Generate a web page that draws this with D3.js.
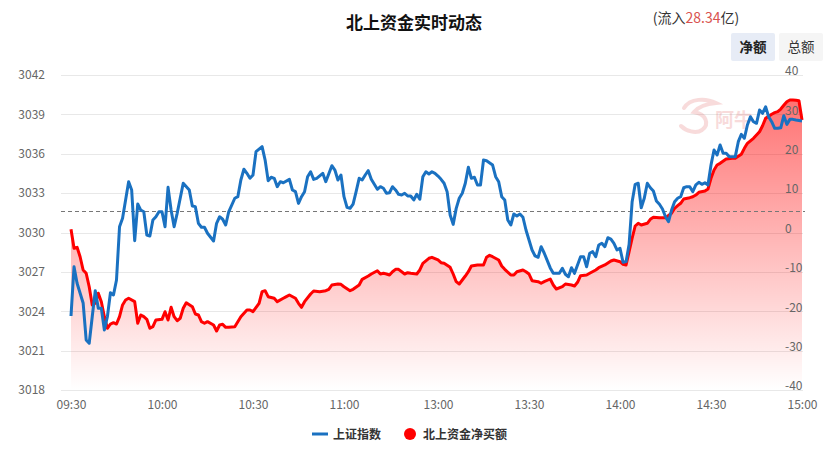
<!DOCTYPE html>
<html><head><meta charset="utf-8">
<script src="https://cdn.jsdelivr.net/npm/d3@7/dist/d3.min.js"></script>
<style>
body{margin:0;background:#fff;}
svg{display:block;font-family:"Noto Sans CJK SC","Noto Sans",sans-serif;}
</style>
</head><body>
<svg id="chart" width="831" height="456"></svg>
<script>
// ---------- data ----------
const title = "北上资金实时动态";
const flowTotal = "28.34";
const timeLabels = ["09:30","10:00","10:30","11:00","13:00","13:30","14:00","14:30","15:00"];
const timeLabelMinute = [0,30,60,90,121,151,181,211,241];
const leftTicks = [3018,3021,3024,3027,3030,3033,3036,3039,3042];
const rightTicks = [-40,-30,-20,-10,0,10,20,30,40];
const prevClose = 3031.64;
// 上证指数: [trading-minute index, value]
const shIndex = [[0,3023.64],[1,3027.39],[2,3026.13],[4,3024.63],[5,3021.81],[6,3021.56],[7,3023.58],[8,3025.57],[9,3024.22],[10,3024.22],[11,3022.57],[12,3023.58],[13,3025.41],[14,3025.24],[15,3026.38],[16,3030.44],[17,3031.08],[18,3032.48],[19,3033.87],[20,3033.24],[21,3029.38],[22,3032.17],[23,3031.71],[24,3031.58],[25,3029.81],[26,3029.73],[27,3030.95],[28,3031.20],[29,3031.58],[30,3031.58],[31,3030.44],[32,3033.44],[33,3031.71],[34,3030.44],[35,3031.46],[37,3033.75],[39,3033.24],[40,3032.02],[41,3031.97],[42,3030.70],[43,3030.40],[44,3030.40],[45,3029.94],[47,3029.35],[48,3030.70],[49,3031.20],[50,3031.01],[51,3030.57],[52,3031.58],[54,3032.61],[55,3032.73],[56,3034.00],[57,3034.82],[58,3034.51],[59,3034.13],[60,3034.38],[61,3036.16],[63,3036.54],[64,3035.52],[65,3033.95],[66,3034.21],[67,3034.13],[68,3033.49],[69,3033.87],[70,3033.79],[72,3034.05],[73,3033.24],[74,3033.11],[75,3032.22],[76,3032.73],[77,3033.11],[78,3034.25],[79,3034.63],[80,3034.05],[81,3034.13],[83,3034.51],[84,3033.87],[86,3035.09],[87,3034.76],[88,3034.00],[89,3034.38],[90,3032.73],[91,3031.92],[92,3031.84],[93,3032.17],[94,3033.11],[95,3034.13],[96,3034.00],[97,3034.38],[98,3034.71],[99,3034.05],[101,3033.29],[102,3033.49],[103,3033.37],[104,3032.99],[105,3033.03],[106,3033.49],[107,3033.24],[108,3032.91],[109,3032.86],[110,3032.99],[111,3032.78],[112,3032.78],[113,3032.48],[114,3032.91],[115,3032.53],[116,3034.25],[117,3034.63],[118,3034.46],[119,3034.63],[120,3034.51],[121,3034.30],[122,3034.05],[123,3033.75],[124,3033.11],[125,3031.33],[126,3030.62],[127,3031.84],[128,3032.61],[129,3032.99],[130,3033.75],[131,3034.97],[132,3034.13],[133,3034.21],[134,3033.62],[135,3033.62],[136,3035.52],[137,3035.47],[139,3035.14],[140,3034.25],[141,3033.87],[142,3032.73],[143,3032.48],[144,3030.95],[145,3030.57],[146,3031.41],[147,3031.26],[148,3031.41],[149,3031.16],[150,3030.19],[151,3029.43],[152,3028.67],[153,3028.21],[154,3028.11],[155,3028.92],[156,3028.44],[158,3027.30],[159,3026.89],[161,3026.89],[162,3027.27],[163,3026.82],[164,3026.63],[165,3027.32],[166,3026.89],[168,3028.16],[169,3028.16],[170,3027.39],[171,3028.42],[172,3028.54],[173,3028.16],[174,3029.05],[175,3029.18],[176,3028.92],[177,3029.60],[178,3029.50],[179,3029.18],[180,3028.67],[181,3028.80],[182,3027.73],[183,3027.78],[184,3029.10],[185,3032.35],[186,3033.67],[187,3033.75],[188,3031.89],[189,3032.61],[190,3033.75],[191,3033.41],[192,3033.16],[193,3032.40],[194,3032.15],[195,3031.79],[196,3031.20],[197,3030.82],[198,3031.71],[199,3032.35],[200,3032.61],[201,3032.73],[202,3033.41],[203,3033.49],[204,3033.49],[205,3033.11],[206,3033.62],[207,3033.82],[208,3033.67],[209,3033.79],[210,3033.62],[211,3035.14],[212,3036.29],[213,3035.90],[214,3036.67],[215,3036.03],[216,3036.03],[217,3035.78],[218,3035.78],[219,3035.78],[220,3036.92],[221,3037.48],[222,3037.18],[223,3038.19],[224,3038.82],[225,3038.44],[226,3038.32],[227,3039.33],[228,3039.08],[229,3039.58],[230,3038.82],[231,3038.44],[232,3037.94],[233,3037.94],[234,3037.98],[235,3038.90],[236,3038.24],[237,3038.62],[238,3038.62],[239,3038.57],[241,3038.50]];
// 北上资金净买额 (亿): [trading-minute index, value]
const northFlow = [[0,0.81],[1,-4.01],[2,-3.76],[3,-6.15],[4,-9.52],[5,-10.36],[6,-13.77],[7,-18.41],[8,-17.98],[9,-15.44],[10,-17.57],[11,-21.38],[12,-24.33],[13,-23.24],[14,-22.91],[15,-23.24],[16,-21.38],[17,-18.41],[18,-17.14],[19,-16.71],[21,-17.57],[22,-23.06],[23,-20.95],[24,-21.38],[25,-22.05],[26,-24.33],[27,-23.92],[28,-22.22],[30,-22.05],[31,-20.11],[32,-22.22],[33,-19.00],[34,-21.38],[35,-22.40],[36,-21.79],[37,-19.25],[38,-17.83],[40,-18.84],[41,-20.70],[42,-20.95],[43,-22.65],[44,-23.06],[45,-22.65],[47,-23.49],[48,-25.02],[49,-23.49],[50,-23.32],[51,-24.08],[52,-24.08],[54,-23.92],[55,-22.65],[56,-21.38],[58,-19.68],[59,-19.68],[60,-20.11],[62,-17.98],[63,-15.03],[64,-14.78],[65,-16.30],[67,-16.71],[68,-17.57],[70,-16.71],[71,-16.30],[72,-15.87],[74,-16.71],[75,-17.98],[76,-19.00],[77,-17.57],[79,-15.62],[80,-14.86],[82,-15.03],[84,-14.78],[85,-14.43],[86,-13.33],[88,-13.08],[89,-13.16],[90,-13.77],[92,-14.78],[93,-14.43],[95,-13.33],[96,-11.89],[98,-11.05],[99,-10.54],[101,-9.70],[102,-10.54],[103,-10.36],[104,-10.54],[105,-10.79],[106,-9.96],[107,-9.35],[108,-9.35],[110,-10.54],[111,-10.21],[112,-10.36],[114,-10.54],[115,-9.52],[116,-7.82],[118,-6.55],[119,-6.30],[121,-6.98],[122,-7.67],[123,-7.82],[125,-8.84],[126,-10.54],[127,-12.49],[128,-13.08],[129,-12.06],[130,-11.05],[131,-9.96],[132,-8.51],[134,-8.25],[135,-8.25],[136,-8.25],[137,-6.30],[138,-5.79],[139,-6.15],[141,-6.98],[142,-8.51],[143,-9.35],[145,-10.79],[146,-10.79],[147,-9.96],[149,-9.52],[150,-9.96],[151,-10.54],[152,-12.24],[154,-12.49],[155,-12.90],[156,-12.49],[158,-11.81],[159,-13.33],[160,-14.35],[162,-13.77],[163,-13.08],[165,-13.33],[166,-13.59],[167,-12.65],[168,-10.97],[170,-10.79],[171,-10.36],[173,-9.52],[174,-8.94],[176,-8.25],[178,-7.24],[179,-6.98],[181,-7.42],[182,-8.08],[183,-8.25],[184,-4.88],[185,-1.47],[186,1.65],[187,2.34],[188,1.90],[190,2.34],[191,3.35],[192,3.86],[194,3.76],[195,3.76],[196,3.76],[198,4.88],[199,6.15],[200,6.81],[201,7.42],[202,8.51],[204,8.84],[205,9.09],[206,9.52],[207,10.21],[209,10.54],[210,11.05],[211,13.77],[212,15.87],[213,17.14],[214,17.57],[216,18.67],[218,18.84],[219,18.84],[221,19.86],[222,21.38],[223,22.65],[225,23.92],[227,25.60],[228,27.12],[229,29.00],[231,30.02],[232,30.43],[233,30.68],[234,31.36],[235,32.30],[236,33.20],[237,33.65],[238,33.65],[239,33.60],[240,33.47],[241,28.57]];

// ---------- layout ----------
const svg = d3.select("#chart");
const x = d3.scaleLinear().domain([0, 241]).range([71, 802]);
const yL = d3.scaleLinear().domain([3018, 3042]).range([390, 75]);
const yR = d3.scaleLinear().domain([-40, 40]).range([390, 75]);
const gridX0 = 61, gridX1 = 803;

// defs: gradient
const defs = svg.append("defs");
const grad = defs.append("linearGradient").attr("id","areaGrad")
  .attr("gradientUnits","userSpaceOnUse").attr("x1",0).attr("x2",0)
  .attr("y1", yR(d3.max(northFlow, d=>d[1]))).attr("y2", 390);
grad.append("stop").attr("offset","0%").attr("stop-color","rgb(255,0,0)").attr("stop-opacity",0.55);
grad.append("stop").attr("offset","100%").attr("stop-color","rgb(255,0,0)").attr("stop-opacity",0.0);

// title
svg.append("text").attr("x", 414).attr("y", 29).attr("text-anchor","middle")
  .attr("font-size", 17).attr("font-weight","bold").attr("fill","#111").text(title);

// flow total
const ft = svg.append("text").attr("x", 696).attr("y", 23).attr("text-anchor","middle")
  .attr("font-size", 14).attr("fill","#333");
ft.append("tspan").text("(流入");
ft.append("tspan").attr("fill","#d9534f").text(flowTotal);
ft.append("tspan").text("亿)");

// buttons
svg.append("rect").attr("x",731).attr("y",33).attr("width",44).attr("height",28).attr("rx",2).attr("fill","#e7ecf6");
svg.append("text").attr("x",753).attr("y",52).attr("text-anchor","middle").attr("font-size",13.5).attr("font-weight","bold").attr("fill","#222").text("净额");
svg.append("rect").attr("x",779).attr("y",33).attr("width",44).attr("height",28).attr("rx",2).attr("fill","#f5f5f5");
svg.append("text").attr("x",801).attr("y",52).attr("text-anchor","middle").attr("font-size",13.5).attr("fill","#333").text("总额");

// gridlines
svg.append("g").selectAll("line").data(leftTicks).join("line")
  .attr("x1", gridX0).attr("x2", gridX1)
  .attr("y1", d=>Math.round(yL(d))+0.5).attr("y2", d=>Math.round(yL(d))+0.5)
  .attr("stroke","#e8e8e8").attr("stroke-width",1);

// watermark
const wm = svg.append("g").attr("opacity",0.22);
wm.append("path").attr("d","M684,108 C690,98 706,98 716,103 C706,104 698,107 694,112 C706,114 710,124 702,130 C696,134 686,131 681,126")
  .attr("fill","none").attr("stroke","#e06060").attr("stroke-width",4).attr("stroke-linecap","round");
wm.append("text").attr("x",715).attr("y",127).attr("font-size",19).attr("font-weight","bold").attr("fill","#e06060").text("阿牛");

// left axis
const axL = svg.append("g").attr("transform",`translate(${gridX0},0)`)
  .call(d3.axisLeft(yL).tickValues(leftTicks).tickSize(0).tickPadding(16).tickFormat(d3.format("d")));
axL.select(".domain").remove();
axL.selectAll("text").attr("font-size",12).attr("fill","#666").attr("font-family","'Noto Sans CJK SC',sans-serif");

// x axis labels
const xAx = svg.append("g").attr("transform","translate(0,390)")
  .call(d3.axisBottom(x).tickValues(timeLabelMinute).tickSize(0).tickPadding(10)
    .tickFormat((d,i)=>timeLabels[i]));
xAx.select(".domain").remove();
xAx.selectAll("text").attr("font-size",12).attr("fill","#666").attr("font-family","'Noto Sans CJK SC',sans-serif");

// area + red line
const area = d3.area().x(d=>x(d[0])).y0(390).y1(d=>yR(d[1]));
svg.append("path").datum(northFlow).attr("d", area).attr("fill","url(#areaGrad)");

// dashed prev close line
svg.append("line").attr("x1",gridX0).attr("x2",805)
  .attr("y1", Math.round(yL(prevClose))+0.5).attr("y2", Math.round(yL(prevClose))+0.5)
  .attr("stroke","#777").attr("stroke-width",1).attr("stroke-dasharray","4,3");

const lineR = d3.line().x(d=>x(d[0])).y(d=>yR(d[1]));
svg.append("path").datum(northFlow).attr("d", lineR).attr("fill","none")
  .attr("stroke","#ff0000").attr("stroke-width",3).attr("stroke-linejoin","round");

// blue line
const lineB = d3.line().x(d=>x(d[0])).y(d=>yL(d[1]));
svg.append("path").datum(shIndex).attr("d", lineB).attr("fill","none")
  .attr("stroke","#1a71c1").attr("stroke-width",3).attr("stroke-linejoin","round");

// right axis (on top)
const axR = svg.append("g").attr("transform","translate(785,-4)")
  .call(d3.axisRight(yR).tickValues(rightTicks).tickSize(0).tickPadding(0));
axR.select(".domain").remove();
axR.selectAll("text").attr("font-size",12).attr("fill","#666").attr("font-family","'Noto Sans CJK SC',sans-serif")
  .text(d=>d<0 ? "-"+Math.abs(d) : d);

// legend
const lg = svg.append("g");
lg.append("line").attr("x1",312).attr("x2",328).attr("y1",434).attr("y2",434).attr("stroke","#1a71c1").attr("stroke-width",3);
lg.append("text").attr("x",333).attr("y",438.5).attr("font-size",12).attr("font-weight","bold").attr("fill","#333").text("上证指数");
lg.append("circle").attr("cx",410).attr("cy",434).attr("r",6).attr("fill","#ff0000");
lg.append("text").attr("x",423).attr("y",438.5).attr("font-size",12).attr("font-weight","bold").attr("fill","#333").text("北上资金净买额");
</script>
</body></html>
